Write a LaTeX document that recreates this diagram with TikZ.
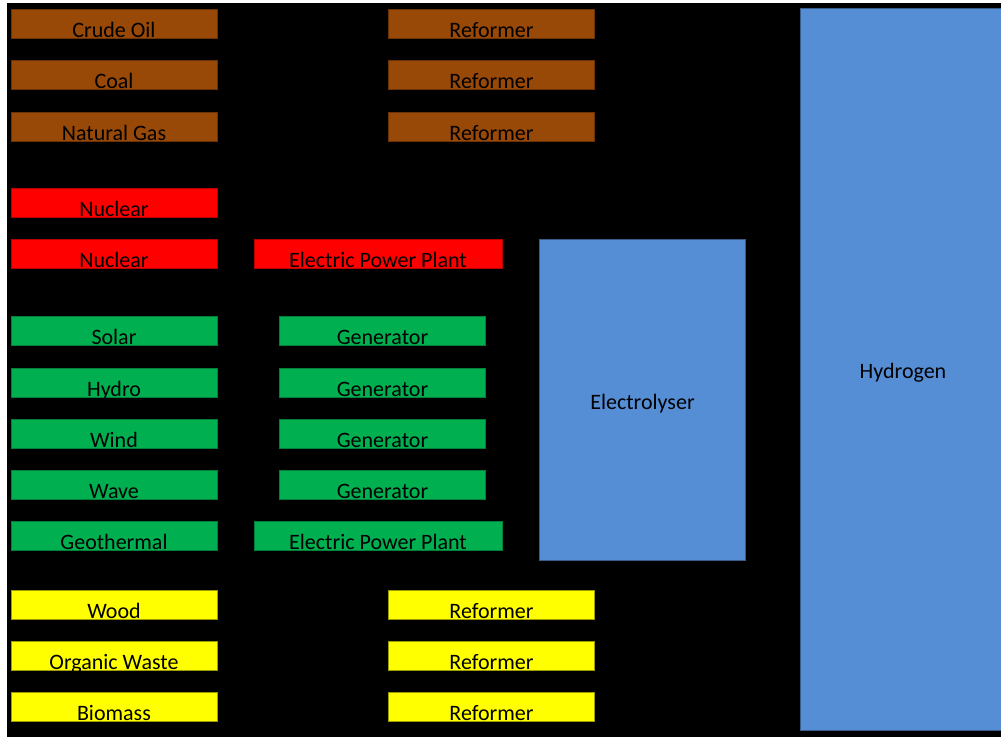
\documentclass[tikz,border=0pt]{standalone}
\usepackage{fontspec}
\setmainfont{Carlito}
\definecolor{brownF}{HTML}{984807}
\definecolor{brownD}{HTML}{6A3205}
\definecolor{redF}{HTML}{FF0000}
\definecolor{redD}{HTML}{B80000}
\definecolor{greenF}{HTML}{00B050}
\definecolor{greenD}{HTML}{00803A}
\definecolor{yellowF}{HTML}{FFFF00}
\definecolor{yellowD}{HTML}{9C9C00}
\definecolor{blueF}{HTML}{558ED5}
\definecolor{blueD}{HTML}{385D8A}
\tikzset{
  bx/.style={draw, line width=0.75pt, inner sep=0pt, minimum height=21.75pt,
    text height=21pt, text depth=0.75pt, text=black,
    font=\fontsize{16.5pt}{18pt}\selectfont},
  w206/.style={minimum width=154.5pt},
  w248/.style={minimum width=186pt},
  brownbox/.style={bx, w206, fill=brownF, draw=brownD},
  redbox/.style={bx, fill=redF, draw=redD},
  greenbox/.style={bx, fill=greenF, draw=greenD},
  yellowbox/.style={bx, w206, fill=yellowF, draw=yellowD},
  bigbox/.style={draw=blueD, fill=blueF, line width=0.75pt, inner sep=0pt,
    minimum width=154.5pt, text=black, text height=13.9pt, text depth=0.4pt,
    font=\fontsize{16.5pt}{18pt}\selectfont}
}
\begin{document}
\begin{tikzpicture}[x=0.75pt,y=-0.75pt]
\useasboundingbox (0,0) rectangle (1001,737);
\clip (0,0) rectangle (1001,737);
\fill[white] (0,0) rectangle (1001,737);
\fill[black] (7,3) rectangle (1001,737);
% fossil
\node[brownbox] (crude) at (114,24.5) {Crude Oil};
\node[brownbox] (coal) at (114,75.5) {Coal};
\node[brownbox] (gas) at (114,127) {Natural Gas};
\node[brownbox] (ref1) at (491.5,24.5) {Reformer};
\node[brownbox] (ref2) at (491.5,75.5) {Reformer};
\node[brownbox] (ref3) at (491.5,127) {Reformer};
% nuclear
\node[redbox, w206] (nuc1) at (114,203.5) {Nuclear};
\node[redbox, w206] (nuc2) at (114,254.5) {Nuclear};
\node[redbox, w248] (epp1) at (378,254.5) {Electric Power Plant};
% renewables
\node[greenbox, w206] (solar) at (114,331.5) {Solar};
\node[greenbox, w206] (hydro) at (114,383) {Hydro};
\node[greenbox, w206] (wind) at (114,434.5) {Wind};
\node[greenbox, w206] (wave) at (114,485.5) {Wave};
\node[greenbox, w206] (geo) at (114,536.5) {Geothermal};
\node[greenbox, w206] (gen1) at (382.5,331.5) {Generator};
\node[greenbox, w206] (gen2) at (382.5,383) {Generator};
\node[greenbox, w206] (gen3) at (382.5,434.5) {Generator};
\node[greenbox, w206] (gen4) at (382.5,485.5) {Generator};
\node[greenbox, w248] (epp2) at (378,536.5) {Electric Power Plant};
% biomass
\node[yellowbox] (wood) at (114,605.5) {Wood};
\node[yellowbox] (waste) at (114,656.5) {Organic Waste};
\node[yellowbox] (bio) at (114,707.5) {Biomass};
\node[yellowbox] (ref4) at (491.5,605.5) {Reformer};
\node[yellowbox] (ref5) at (491.5,656.5) {Reformer};
\node[yellowbox] (ref6) at (491.5,707.5) {Reformer};
% electrolyser and hydrogen
\node[bigbox, minimum height=240.75pt] (elec) at (642.5,400.5) {Electrolyser};
\node[bigbox, minimum height=541.5pt] (h2) at (903,370) {Hydrogen};
\end{tikzpicture}
\end{document}
